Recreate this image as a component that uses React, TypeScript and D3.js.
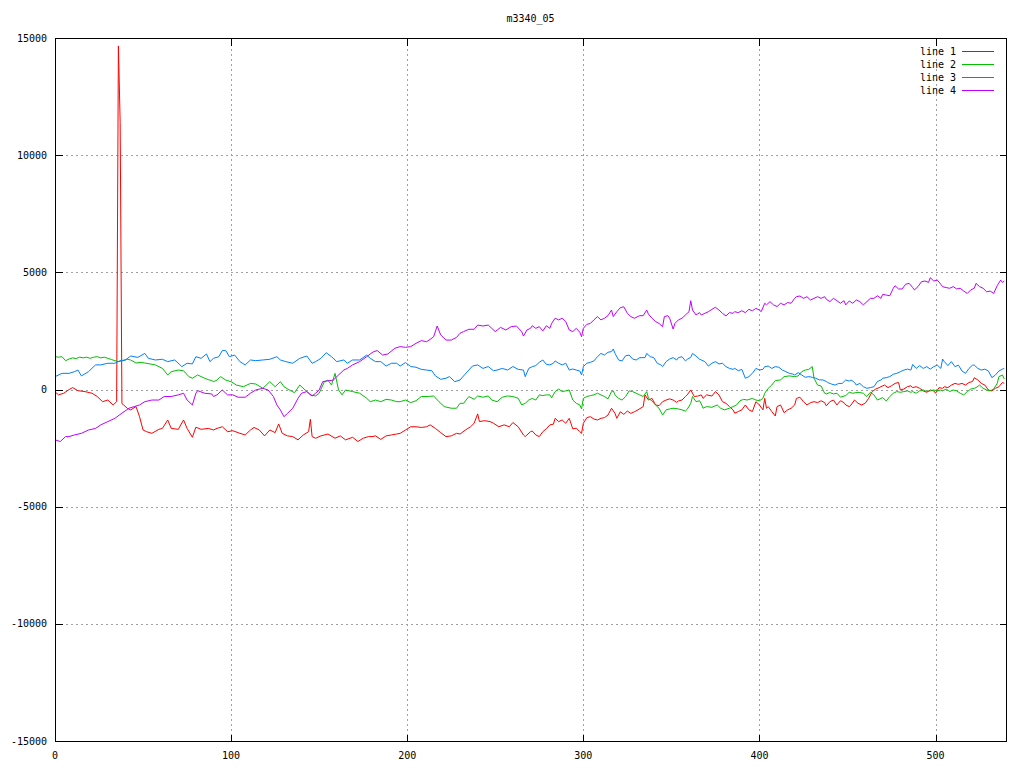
import * as d3 from 'd3';

// gnuplot-like line chart: four series over x = 0..540
const title = 'm3340_05';
const seriesNames = ['line 1', 'line 2', 'line 3', 'line 4'];
const seriesColors = ['#ff0000', '#00c000', '#0080ff', '#c000ff'];
const xTicks = [0, 100, 200, 300, 400, 500];
const yTicks = [-15000, -10000, -5000, 0, 5000, 10000, 15000];

const line1: [number, number][] = [
  [0,-100],[2,-230],[5,-160],[8,0],[10,80],[13,-50],[17,-90],[21,-160],[24,-300],[27,-520],[30,-450],[33,-660],[35,-520],[36,14660],[37,11400],[38,-600],[39,-660],[41,-800],[43,-870],[46,-730],[48,-1160],[50,-1730],[52,-1800],[55,-1870],[59,-1700],[61,-1660],[64,-1300],[66,-1660],[70,-1700],[73,-1300],[75,-1660],[78,-2040],[80,-1610],[83,-1700],[87,-1660],
  [90,-1727],[92,-1660],[95,-1590],[98,-1800],[101,-1760],[105,-1870],[108,-1940],[111,-1727],[113,-1620],[116,-1727],[119,-1980],[122,-1727],[125,-1840],[127,-1470],[129,-1870],[132,-1980],[135,-2010],[138,-2150],[141,-1940],[144,-1800],[145,-1270],[146,-2010],[148,-2080],[151,-1980],[155,-1900],[159,-2080],[162,-1980],[165,-2150],[169,-2040],[172,-2220],[175,-2080],[178,-2010],
  [180,-2010],[182,-1980],[185,-2130],[188,-1980],[191,-1940],[194,-1900],[196,-1870],[199,-1730],[202,-1590],[205,-1590],[208,-1620],[211,-1590],[213,-1510],[216,-1660],[219,-1840],[222,-2010],[225,-1980],[228,-1870],[230,-1900],[233,-1730],[236,-1590],[238,-1440],[240,-1040],[241,-1370],[244,-1330],[247,-1370],[249,-1440],[252,-1590],[255,-1510],[258,-1590],[260,-1410],[263,-1590],[266,-1940],[267,-2010],
  [270,-1800],[271,-1770],[273,-1940],[275,-2010],[277,-1800],[279,-1680],[281,-1510],[283,-1480],[284,-1230],[286,-1370],[288,-1300],[290,-1440],[292,-1230],[294,-1680],[296,-1650],[298,-1800],[299,-1870],[300,-1440],[302,-1200],[304,-1160],[306,-1260],[308,-1300],[310,-1230],[312,-1200],[314,-1090],[316,-800],[318,-1020],[319,-1230],[321,-950],[323,-1060],[325,-920],[327,-1020],[329,-950],[331,-870],[334,-730],[335,-230],[337,-450],[339,-380],[341,-660],[343,-690],[345,-520],[347,-450],[349,-400],[351,-450],[353,-550],[354,-490],[356,-450],[358,-300],
  [359,-230],[361,-20],[363,-300],[365,-280],[367,-230],[368,-380],[370,-230],[373,-280],[375,-90],[377,-230],[379,-520],[381,-590],[383,-730],[385,-870],[386,-1010],[388,-940],[390,-870],[392,-660],[394,-870],[396,-940],[398,-520],[400,-660],[402,-870],[403,-380],[404,-800],[405,-730],[407,-940],[409,-1130],[410,-730],[412,-660],[414,-990],[416,-870],[418,-800],[420,-660],[421,-380],[423,-330],[425,-520],[427,-660],[429,-560],[431,-520],[433,-560],[435,-480],[437,-560],[438,-700],[440,-520],[442,-450],[444,-660],[446,-480],[448,-560],
  [449,-660],[451,-730],[452,-660],[454,-450],[456,-590],[458,-660],[460,-590],[462,-380],[464,-90],[466,20],[468,80],[469,120],[471,190],[473,80],[475,160],[477,260],[479,300],[480,-20],[482,20],[484,120],[486,160],[487,80],[489,120],[491,50],[493,-60],[495,-120],[497,-20],[499,-60],[500,-160],[502,80],[504,50],[505,120],[507,80],[509,190],[511,260],[513,220],[515,260],[517,190],[519,300],[521,340],[522,505],[524,406],[526,260],[528,190],[530,-20],[532,-60],[534,50],[536,120],[538,300],[539,260],
];

const line2: [number, number][] = [
  [0,1400],[2,1380],[4,1400],[6,1230],[8,1300],[10,1350],[12,1320],[14,1380],[16,1350],[18,1380],[20,1330],[22,1380],[24,1400],[26,1350],[28,1380],[30,1330],[32,1280],[34,1230],[36,1190],[38,1220],[41,1290],[43,1260],[46,1130],[49,1160],[51,1130],[54,1090],[57,1050],[61,900],[64,620],[66,760],[70,830],[73,800],[76,550],[78,480],[81,620],[85,480],[87,420],[89,380],
  [90,335],[92,400],[94,550],[97,400],[100,335],[103,190],[107,120],[111,260],[114,235],[118,50],[122,335],[125,120],[128,335],[130,120],[133,-20],[136,-135],[139,190],[142,-20],[145,-230],[148,-275],[150,-160],[153,335],[155,400],[157,190],[159,690],[161,-20],[163,-230],[165,-20],[169,-90],[173,-160],[177,-375],
  [179,-520],[182,-450],[185,-520],[188,-420],[191,-450],[194,-520],[196,-520],[199,-450],[202,-560],[205,-480],[208,-300],[212,-300],[215,-275],[218,-520],[221,-730],[225,-800],[228,-800],[230,-590],[232,-590],[235,-300],[238,-420],[240,-275],[243,-330],[246,-275],[248,-450],[251,-520],[254,-330],[257,-275],[260,-300],[263,-375],[265,-660],[267,-590],
  [269,-450],[271,-380],[273,-450],[275,-230],[277,-260],[279,-230],[281,-230],[282,-350],[284,-90],[286,20],[288,-90],[290,-60],[292,-20],[294,-450],[296,-590],[298,-660],[299,-830],[300,-380],[302,-300],[304,-260],[306,-230],[308,-160],[310,-230],[312,-300],[314,-400],[316,-90],[317,-60],[318,-230],[320,-380],[322,-450],[324,-300],[326,-60],[328,-90],[330,-160],[332,-230],[334,-300],[336,-90],[337,-380],[339,-490],[341,-660],[343,-800],[345,-1090],[347,-870],[349,-830],[351,-800],[354,-830],[356,-870],[358,-920],
  [359,-845],[361,-590],[362,-300],[364,-520],[366,-480],[367,-620],[368,-800],[370,-730],[373,-760],[376,-660],[378,-800],[380,-870],[383,-800],[385,-730],[387,-660],[389,-480],[391,-420],[393,-450],[396,-380],[398,-450],[400,-480],[402,-380],[403,-160],[405,50],[407,190],[409,380],[412,410],[414,550],[417,580],[420,550],[422,580],[424,760],[426,830],[428,860],[430,975],[431,480],[433,190],[435,150],[437,-160],[438,-190],[440,-130],[442,-190],[444,-160],[446,-330],[448,-280],
  [449,-262],[451,-120],[453,-160],[456,-120],[459,-160],[461,-300],[463,-120],[465,-230],[467,-450],[469,-380],[470,-350],[472,-490],[474,-300],[476,-160],[478,-90],[480,-120],[482,-90],[484,-60],[486,-120],[487,-90],[489,-160],[491,-60],[493,-20],[495,-90],[497,-60],[499,-20],[501,-60],[503,-20],[504,-60],[506,20],[508,-90],[510,-20],[512,-60],[514,-160],[516,-230],[518,-90],[520,20],[522,50],[523,80],[525,190],[527,50],[529,-20],[531,-60],[533,20],[535,260],[536,550],[538,620],[539,450],
];

const line3: [number, number][] = [
  [0,548],[4,690],[8,690],[11,760],[13,830],[15,580],[19,760],[23,1050],[26,1050],[30,1120],[34,1120],[37,1230],[40,1260],[43,1430],[47,1370],[51,1540],[53,1330],[57,1260],[61,1290],[64,1190],[68,1260],[71,1050],[72,975],[75,1120],[78,1090],[80,1400],[83,1330],[86,1515],[88,1190],
  [90,1330],[93,1400],[95,1660],[97,1660],[99,1400],[102,1470],[105,1190],[108,1050],[111,1260],[114,1230],[118,1260],[122,1290],[126,1400],[128,1260],[131,1190],[135,1120],[139,1330],[143,1430],[146,1120],[148,1190],[151,1330],[154,1570],[157,1400],[160,1190],[164,1260],[166,1120],[169,1260],[173,1260],[177,1470],
  [179,1330],[182,1190],[185,1190],[188,1000],[191,1120],[194,1120],[196,1000],[199,1150],[202,980],[205,950],[208,860],[211,830],[214,800],[216,580],[219,435],[222,480],[224,550],[227,335],[230,405],[232,580],[235,830],[237,1000],[240,1050],[243,900],[246,980],[249,800],[251,830],[254,900],[257,830],[260,980],[263,860],[266,830],[267,550],
  [269,900],[271,975],[273,1020],[275,1160],[277,1260],[279,1075],[281,1050],[283,1120],[284,1220],[286,1120],[288,1050],[290,1120],[292,830],[294,875],[296,830],[298,790],[299,620],[300,975],[302,1120],[304,1160],[306,1220],[308,1400],[310,1540],[312,1470],[314,1590],[316,1615],[317,1730],[318,1540],[320,1260],[322,1220],[324,1440],[326,1470],[328,1300],[330,1260],[332,1360],[335,1360],[336,1540],[338,1400],[340,1360],[342,1120],[344,1050],[345,975],[347,1190],[349,1300],[351,1360],[353,1260],[354,1360],[356,1400],[358,1220],
  [359,1290],[361,1370],[362,1540],[364,1430],[366,1290],[367,1260],[369,1190],[371,1000],[373,1120],[375,1190],[377,1090],[379,1120],[381,975],[383,900],[385,860],[386,900],[388,800],[390,860],[392,480],[394,550],[396,690],[398,900],[400,830],[402,860],[403,975],[405,1000],[407,900],[409,975],[411,950],[413,830],[415,760],[417,690],[419,660],[420,620],[422,720],[424,620],[426,520],[428,550],[430,520],[432,480],[434,410],[436,410],[438,340],[439,290],[441,230],[443,190],[445,260],[447,260],
  [449,406],[451,360],[452,406],[454,300],[455,190],[457,260],[459,120],[461,50],[463,80],[465,120],[467,340],[469,406],[470,480],[472,505],[474,550],[476,650],[478,690],[480,760],[482,830],[484,870],[486,830],[487,1070],[489,900],[491,1020],[493,900],[495,975],[497,870],[499,975],[501,1040],[503,900],[504,1300],[505,1190],[507,1020],[509,1190],[511,975],[513,1040],[515,790],[517,690],[519,900],[521,1040],[522,1040],[524,900],[526,830],[528,870],[530,790],[532,505],[534,620],[536,790],[538,870],[539,900],
];

const line4: [number, number][] = [
  [0,-2150],[3,-2220],[6,-2010],[8,-2010],[11,-1940],[15,-1870],[19,-1730],[23,-1660],[26,-1510],[30,-1370],[34,-1230],[38,-1010],[42,-800],[45,-730],[48,-660],[51,-520],[55,-450],[59,-450],[62,-300],[66,-300],[70,-230],[73,-160],[75,-450],[78,-660],[80,-160],[81,-50],[85,-160],[89,-190],
  [90,-300],[92,-230],[95,-20],[98,-230],[101,-230],[104,-330],[108,-330],[111,-160],[114,-20],[118,50],[121,-20],[124,-300],[126,-660],[128,-875],[130,-1160],[132,-1020],[135,-800],[138,-375],[140,-160],[143,-90],[146,-275],[148,-160],[150,-20],[152,335],[155,370],[158,400],[161,620],[164,830],[166,900],[169,1050],[173,1190],[177,1400],
  [180,1570],[181,1615],[183,1660],[186,1470],[189,1515],[193,1760],[196,1830],[199,1800],[202,1830],[205,1970],[208,2085],[211,2040],[213,2140],[215,2250],[217,2710],[219,2330],[222,2110],[225,2110],[228,2225],[230,2400],[232,2470],[235,2570],[238,2570],[240,2750],[243,2710],[246,2750],[248,2610],[250,2470],[253,2650],[256,2540],[259,2680],[262,2710],[265,2470],[266,2280],[268,2540],
  [270,2610],[271,2720],[273,2610],[275,2680],[277,2500],[279,2720],[281,2610],[282,2820],[284,3040],[286,2970],[288,3040],[290,2900],[292,2540],[294,2470],[296,2610],[298,2440],[299,2255],[300,2610],[302,2780],[304,2820],[306,2970],[308,3110],[310,2970],[312,3040],[314,3150],[316,3390],[317,3110],[319,3320],[321,3490],[323,3530],[325,3250],[327,3110],[329,3040],[332,3150],[334,3150],[336,3390],[337,3210],[339,3040],[341,2900],[343,2820],[345,2680],[346,3110],[348,3150],[349,3040],[351,2580],[352,2820],[354,2970],[356,3040],[358,3180],
  [359,3250],[360,3320],[361,3790],[362,3390],[364,3180],[366,3280],[367,3180],[369,3250],[371,3320],[373,3420],[375,3510],[377,3390],[379,3250],[381,3140],[383,3280],[385,3250],[386,3320],[388,3280],[390,3360],[392,3280],[394,3420],[396,3360],[398,3460],[400,3390],[401,3320],[403,3680],[404,3610],[406,3750],[408,3610],[410,3540],[412,3680],[414,3610],[416,3710],[418,3680],[420,3890],[421,3960],[423,3990],[425,3890],[427,3960],[429,3820],[431,3890],[433,3960],[435,3890],[437,3960],[438,3850],[440,3750],[442,3890],[444,3790],[446,3680],[448,3790],
  [449,3610],[451,3780],[453,3680],[455,3820],[457,3750],[459,3610],[461,3750],[463,3890],[465,3890],[467,4000],[469,3890],[470,4060],[472,4030],[474,4000],[476,4320],[477,4430],[479,4290],[481,4290],[483,4490],[485,4530],[487,4350],[488,4250],[490,4390],[492,4600],[494,4630],[496,4570],[497,4770],[499,4630],[501,4670],[503,4490],[504,4390],[506,4350],[508,4320],[510,4390],[512,4290],[514,4320],[516,4200],[518,4100],[520,4250],[522,4320],[523,4530],[525,4390],[527,4320],[529,4170],[531,4200],[533,4100],[535,4430],[537,4670],[538,4570],[539,4630],
];

const allSeries = [line1, line2, line3, line4];

const width = 1024;
const height = 768;
const margin = { top: 38, right: 18, bottom: 27, left: 55 };
const font = "'DejaVu Sans Mono', monospace";

export default function App() {
  const x = d3.scaleLinear().domain([0, 540]).range([margin.left, width - margin.right]);
  const y = d3.scaleLinear().domain([-15000, 15000]).range([height - margin.bottom, margin.top]);
  const px = (v: number) => Math.round(x(v)) + 0.5;
  const py = (v: number) => Math.round(y(v)) + 0.5;

  const line = d3
    .line<[number, number]>()
    .x((d) => x(d[0]))
    .y((d) => y(d[1]));

  const left = margin.left + 0.5;
  const right = width - margin.right + 0.5;
  const top = margin.top + 0.5;
  const bottom = height - margin.bottom + 0.5;
  const tick = 7;

  return (
    <svg
      width={width}
      height={height}
      style={{ position: 'absolute', left: 0, top: 0, background: '#fff' }}
      fontFamily={font}
      fontSize={10}
    >
      <rect x={0} y={0} width={width} height={height} fill="#fff" />

      {/* grid */}
      <g stroke="#a0a0a0" strokeDasharray="2,3" shapeRendering="crispEdges">
        {xTicks.filter((t) => t > 0).map((t) => (
          <line key={'gx' + t} x1={px(t)} x2={px(t)} y1={top} y2={bottom} />
        ))}
        {yTicks.filter((t) => t > -15000 && t < 15000).map((t) => (
          <line key={'gy' + t} x1={left} x2={right} y1={py(t)} y2={py(t)} />
        ))}
      </g>

      {/* ticks (mirrored) */}
      <g stroke="#000" shapeRendering="crispEdges">
        {xTicks.map((t) => (
          <g key={'tx' + t}>
            <line x1={px(t)} x2={px(t)} y1={bottom} y2={bottom - tick} />
            <line x1={px(t)} x2={px(t)} y1={top} y2={top + tick} />
          </g>
        ))}
        {yTicks.map((t) => (
          <g key={'ty' + t}>
            <line x1={left} x2={left + tick} y1={py(t)} y2={py(t)} />
            <line x1={right} x2={right - tick} y1={py(t)} y2={py(t)} />
          </g>
        ))}
      </g>

      {/* tick labels */}
      <g fill="#000">
        {xTicks.map((t) => (
          <text key={'lx' + t} x={x(t)} y={height - margin.bottom + 18} textAnchor="middle">
            {t}
          </text>
        ))}
        {yTicks.map((t) => (
          <text key={'ly' + t} x={margin.left - 8} y={y(t)} dy="0.35em" textAnchor="end">
            {t}
          </text>
        ))}
      </g>

      {/* series */}
      <g fill="none" strokeWidth={1}>
        {allSeries.map((s, i) => (
          <path key={'s' + i} d={line(s) ?? ''} stroke={seriesColors[i]} />
        ))}
      </g>

      {/* border */}
      <rect
        x={left}
        y={top}
        width={right - left}
        height={bottom - top}
        fill="none"
        stroke="#000"
        shapeRendering="crispEdges"
      />

      {/* legend */}
      <g>
        {seriesNames.map((name, i) => {
          const ly = 51.5 + i * 13;
          return (
            <g key={name}>
              <text x={956} y={ly} dy="0.35em" textAnchor="end" fill="#000">
                {name}
              </text>
              <line x1={962} x2={994} y1={ly} y2={ly} stroke={seriesColors[i]} shapeRendering="crispEdges" />
            </g>
          );
        })}
      </g>

      {/* title */}
      <text x={(margin.left + width - margin.right) / 2} y={22} textAnchor="middle" fill="#000">
        {title}
      </text>
    </svg>
  );
}
